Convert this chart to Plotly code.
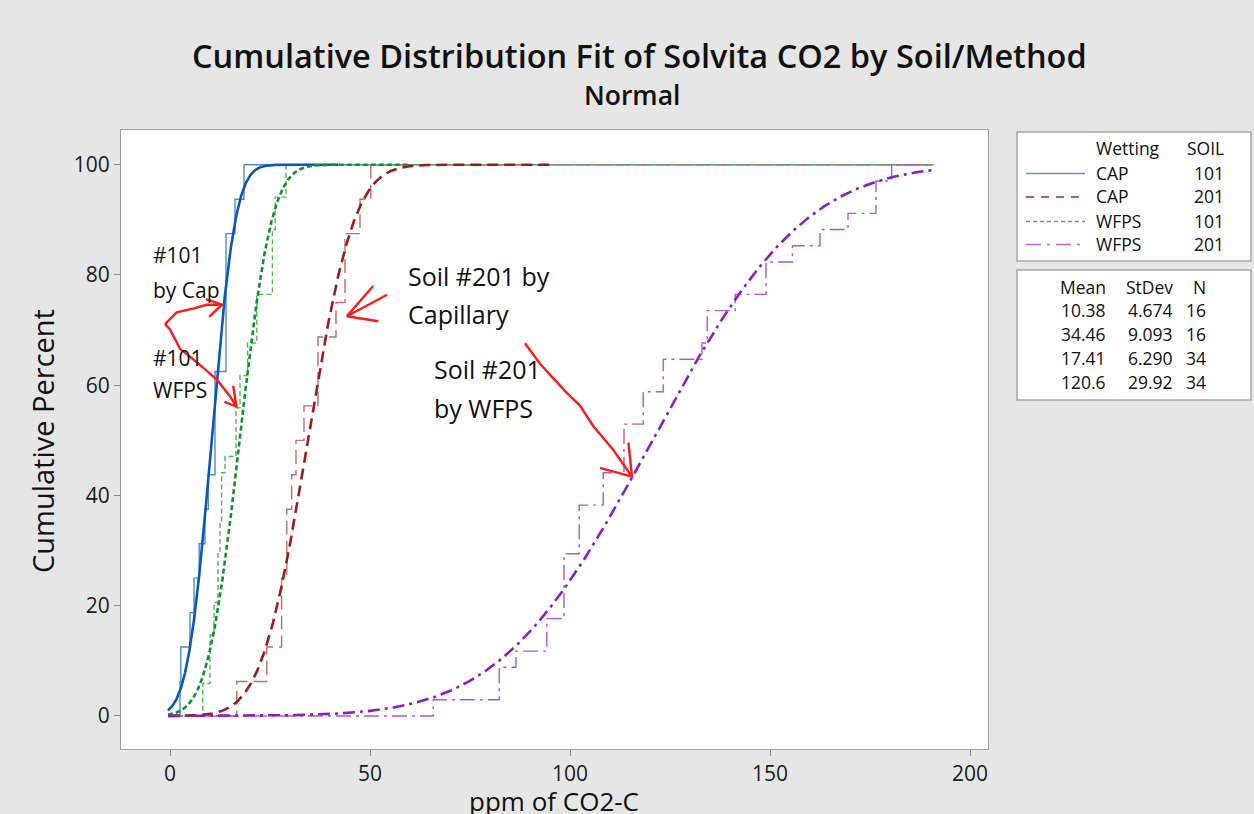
import math
import numpy as np
import plotly.graph_objects as go

# ---------------- data ----------------
wetting = ["CAP", "CAP", "WFPS", "WFPS"]
soil = ["101", "201", "101", "201"]
means = [10.38, 34.46, 17.41, 120.6]
stdevs = [4.674, 9.093, 6.290, 29.92]
ns = [16, 16, 34, 34]

# empirical (sorted distinct values and how many observations at each)
cap101_vals = [2.5, 2.7, 5.0, 6.0, 7.3, 8.75, 9.6, 11.25, 14.0, 16.25, 18.5]
cap101_cnt = [1, 1, 1, 1, 1, 1, 1, 3, 4, 1, 1]
cap201_vals = [16.7, 24.2, 27.9, 29.2, 30.4, 31.5, 33.5, 37.0, 41.5, 43.75, 47.5, 50.2]
cap201_cnt = [1, 1, 2, 2, 1, 1, 1, 2, 1, 2, 1, 1]
wfps101_vals = [8.2, 10.0, 11.0, 12.0, 12.5, 12.9, 13.75, 16.5, 17.5, 19.4, 21.7, 25.6, 26.3, 29.0]
wfps101_cnt = [2, 3, 2, 3, 2, 3, 1, 3, 2, 2, 3, 4, 2, 2]
wfps201_vals = [65.8, 82.3, 86.5, 94.2, 98.5, 102.3, 108.3, 113.5, 118.3, 123.3, 133.0,
                134.3, 141.3, 149.0, 155.6, 162.5, 169.5, 176.5, 180.4]
wfps201_cnt = [1, 2, 1, 2, 4, 3, 2, 3, 2, 2, 1, 2, 1, 2, 1, 1, 1, 2, 1]

x_ticks = [0, 50, 100, 150, 200]
y_ticks = [0, 20, 40, 60, 80, 100]

data_lo, data_hi = -0.5, 190.8
fit_hi = [42, 96, 60, 190.8]

emp_vals = [cap101_vals, cap201_vals, wfps101_vals, wfps201_vals]
emp_cnts = [cap101_cnt, cap201_cnt, wfps101_cnt, wfps201_cnt]

# ---------------- styles ----------------
fit_colors = ["#0b58b4", "#9a1c1c", "#12902c", "#8a1fc4"]
step_colors = ["#4d8bd2", "#c46a6a", "#50b85a", "#ad55dc"]
legend_colors = ["#5b93d3", "#a52a2a", "#55b35f", "#c062e0"]
fit_dash = ["solid", "11px,6px", "5px,3px", "12px,5px,3px,5px"]
step_dash = ["solid", "14px,6px", "5px,3px", "15px,5px,3px,5px"]
legend_dash = ["solid", "8px,7px", "4px,3px", "15px,6px,3px,6px"]

FONT = "Open Sans"

# plot area in pixels
L, R, T, B = 121, 988, 130, 749
W, H = 1254, 814
def px2x(px):
    return (px - L) / (R - L)
def px2y(py):
    return (B - py) / (B - T)

fig = go.Figure()

# empirical step functions
for i in range(4):
    cum = list(np.cumsum(emp_cnts[i]) / ns[i] * 100.0)
    xs = [data_lo] + emp_vals[i] + [data_hi]
    ys = [0.0] + cum + [100.0]
    fig.add_trace(go.Scatter(x=xs, y=ys, mode="lines", line_shape="hv",
                             line=dict(color=step_colors[i], width=1.4, dash=step_dash[i]),
                             showlegend=False, hoverinfo="skip"))

# fitted normal CDFs
for i in range(4):
    xs = np.linspace(data_lo, fit_hi[i], 700)
    ys = [50.0 * (1.0 + math.erf((x - means[i]) / (stdevs[i] * math.sqrt(2.0)))) for x in xs]
    fig.add_trace(go.Scatter(x=xs, y=ys, mode="lines",
                             line=dict(color=fit_colors[i], width=2.6, dash=fit_dash[i]),
                             showlegend=False, hoverinfo="skip"))

shapes = []
annotations = []

# ---------------- hand-drawn red arrows (data coords) ----------------
arrow_paths = [
    [(-1.25, 71.1), (1.7, 73.2), (5.75, 73.9), (9.2, 74.6), (13.0, 74.6)],
    [(9.0, 75.6), (13.0, 74.6), (9.8, 72.4)],
    [(-1.25, 71.1), (0.0, 70.1), (2.5, 66.6), (6.7, 64.2), (11.7, 61.0), (15.0, 58.0), (16.6, 56.1)],
    [(13.6, 57.0), (16.6, 56.1), (15.8, 59.9)],
    [(50.8, 78.0), (44.2, 72.5), (54.3, 76.4)],
    [(44.2, 72.5), (52.1, 71.6)],
    [(88.75, 67.6), (92.5, 63.9), (99.2, 58.6), (102.5, 56.3), (105.8, 52.6), (110.8, 48.3), (115.5, 43.4)],
    [(107.5, 45.0), (115.5, 43.4), (114.6, 49.6)],
]
for pts in arrow_paths:
    d = "M " + " L ".join(f"{x},{y}" for x, y in pts)
    shapes.append(dict(type="path", xref="x", yref="y", path=d,
                       line=dict(color="#ff1a1a", width=2.4)))

# ---------------- text notes ----------------
notes = [
    ("#101", -4.5, 83.7, 21), ("by Cap", -4.5, 77.3, 21),
    ("#101", -4.5, 65.0, 21), ("WFPS", -4.5, 59.2, 21),
    ("Soil #201 by", 59.25, 79.85, 25), ("Capillary", 59.25, 72.96, 25),
    ("Soil #201", 65.75, 63.0, 25), ("by WFPS", 65.75, 55.9, 25),
]
for txt, x, y, sz in notes:
    annotations.append(dict(text=txt, x=x, y=y, xref="x", yref="y", xanchor="left",
                            yanchor="middle", showarrow=False, borderpad=0,
                            font=dict(family=FONT, size=sz, color="#111111")))

# ---------------- titles ----------------
annotations.append(dict(text="Cumulative Distribution Fit of Solvita CO2 by Soil/Method",
                        x=px2x(639), y=px2y(56), xref="paper", yref="paper",
                        xanchor="center", yanchor="middle", showarrow=False, borderpad=0,
                        font=dict(family=FONT, size=32.5, color="#111111", weight=600)))
annotations.append(dict(text="Normal", x=px2x(632), y=px2y(95), xref="paper", yref="paper",
                        xanchor="center", yanchor="middle", showarrow=False, borderpad=0,
                        font=dict(family=FONT, size=26.5, color="#111111", weight=600)))
annotations.append(dict(text="Cumulative Percent", x=px2x(42), y=px2y(441), xref="paper",
                        yref="paper", xanchor="center", yanchor="middle", textangle=-90,
                        showarrow=False, borderpad=0,
                        font=dict(family=FONT, size=29, color="#111111")))
annotations.append(dict(text="ppm of CO2-C", x=px2x(554), y=px2y(801), xref="paper",
                        yref="paper", xanchor="center", yanchor="middle", borderpad=0,
                        showarrow=False, font=dict(family=FONT, size=26, color="#111111")))

# ---------------- legend boxes ----------------
shapes.append(dict(type="rect", xref="paper", yref="paper", x0=px2x(1017), x1=px2x(1251),
                   y0=px2y(261), y1=px2y(132), fillcolor="white",
                   line=dict(color="#a8a8a8", width=1.5)))
shapes.append(dict(type="rect", xref="paper", yref="paper", x0=px2x(1017), x1=px2x(1251),
                   y0=px2y(400), y1=px2y(270), fillcolor="white",
                   line=dict(color="#a8a8a8", width=1.5)))

LF = 17.5
def ltext(t, px, py, anchor):
    annotations.append(dict(text=t, x=px2x(px), y=px2y(py), xref="paper", yref="paper",
                            xanchor=anchor, yanchor="middle", showarrow=False, borderpad=0,
                            font=dict(family=FONT, size=LF, color="#111111")))

ltext("Wetting", 1095, 148, "left")
ltext("SOIL", 1225, 148, "right")
row_y = [172.5, 196, 220.5, 243.5]
for i in range(4):
    yy = row_y[i]
    shapes.append(dict(type="line", xref="paper", yref="paper", x0=px2x(1026), x1=px2x(1085),
                       y0=px2y(yy + 1), y1=px2y(yy + 1),
                       line=dict(color=legend_colors[i], width=1.4, dash=legend_dash[i])))
    ltext(wetting[i], 1095, yy, "left")
    ltext(soil[i], 1225, yy, "right")

ltext("Mean", 1107, 287, "right")
ltext("StDev", 1174, 287, "right")
ltext("N", 1207, 287, "right")
stat_y = [310, 334, 358, 382]
for i in range(4):
    yy = stat_y[i]
    ltext(f"{means[i]:.4g}" if means[i] < 100 else f"{means[i]:.1f}", 1107, yy, "right")
    ltext(f"{stdevs[i]:.3f}" if stdevs[i] < 10 else f"{stdevs[i]:.2f}", 1174, yy, "right")
    ltext(str(ns[i]), 1207, yy, "right")

fig.update_layout(
    width=W, height=H,
    margin=dict(l=L, r=W - R, t=T, b=H - B, pad=0),
    paper_bgcolor="#e6e6e6", plot_bgcolor="white",
    shapes=shapes, annotations=annotations, showlegend=False,
    xaxis=dict(range=[-12.25, 204.5], tickvals=x_ticks, ticks="outside", ticklen=6,
               tickcolor="#888888", showgrid=False, zeroline=False, showline=True,
               mirror=True, linecolor="#a0a0a0", linewidth=1,
               tickfont=dict(family=FONT, size=21, color="#1a1a1a")),
    yaxis=dict(range=[-6.0, 106.3], tickvals=y_ticks, ticks="outside", ticklen=6,
               tickcolor="#888888", showgrid=False, zeroline=False, showline=True,
               mirror=True, linecolor="#a0a0a0", linewidth=1,
               tickfont=dict(family=FONT, size=21, color="#1a1a1a")),
)

fig.write_html("out.html", config={"displayModeBar": False},
               post_script="document.body.style.margin='0px';"
                           "document.body.style.overflow='hidden';"
                           "document.body.style.background='#e6e6e6';")
